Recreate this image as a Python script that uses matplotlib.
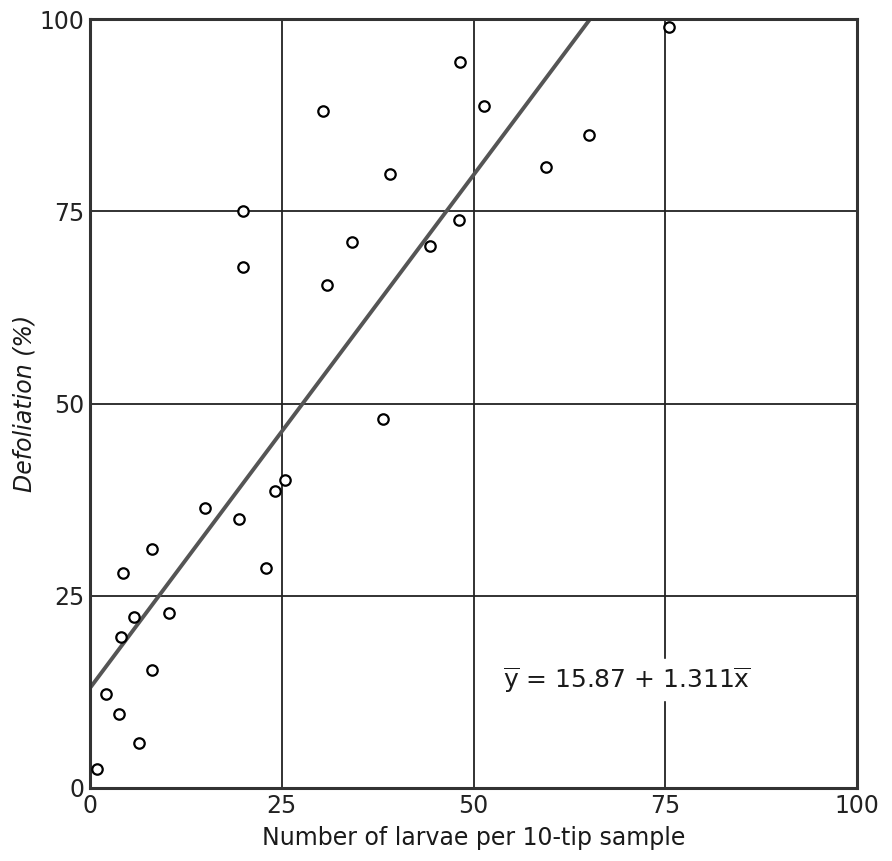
import numpy as np
import matplotlib.pyplot as plt

# larvae per 10-tip sample vs defoliation (%)
larvae = [0.9, 2.1, 3.8, 6.4, 4.0, 5.7, 8.1, 10.3, 4.3, 8.1,
          15.0, 19.4, 23.0, 24.1, 25.4, 20.0, 20.0, 30.9, 34.2, 38.2,
          44.3, 48.1, 39.1, 30.4, 48.2, 51.4, 59.5, 65.1, 75.5]
defoliation = [2.5, 12.2, 9.6, 5.9, 19.7, 22.3, 15.4, 22.7, 28.0, 31.1,
               36.4, 35.0, 28.6, 38.6, 40.0, 75.0, 67.7, 65.4, 71.0, 48.0,
               70.5, 73.8, 79.9, 88.0, 94.4, 88.7, 80.7, 84.9, 98.9]

# fitted line as drawn on the figure
line_x = [0, 65.2]
line_y = [13.0, 100]

ticks = [0, 25, 50, 75, 100]
tick_labels = ['0', '25', '50', '75', '100']
equation = r'$\overline{\mathrm{y}}$ = 15.87 + 1.311$\overline{\mathrm{x}}$'

plt.rcParams['font.family'] = ['DejaVu Sans']

fig = plt.figure(figsize=(8.92, 8.61), dpi=100)
ax = fig.add_axes([0.1009, 0.0848, 0.8599, 0.8931])

for v in [25, 50, 75]:
    ax.axvline(v, color='#222222', lw=1.3, zorder=1)
    ax.axhline(v, color='#222222', lw=1.3, zorder=1)

ax.plot(line_x, line_y, color='#555555', lw=2.8, solid_capstyle='butt', zorder=2)
ax.plot(larvae, defoliation, 'o', ms=7.5, mfc='white', mec='black', mew=1.6, zorder=3)

ax.text(53.8, 14.1, equation, fontsize=18, va='center', ha='left',
        color='#1a1a1a', backgroundcolor='white', zorder=4)

ax.set_xlim(0, 100)
ax.set_ylim(0, 100)
ax.set_xticks(ticks)
ax.set_xticklabels(tick_labels)
ax.set_yticks(ticks)
ax.set_yticklabels(tick_labels)
ax.tick_params(length=0, labelsize=17, colors='#222222', pad=4)
for s in ax.spines.values():
    s.set_linewidth(2.2)
    s.set_color('#333333')

ax.set_xlabel('Number of larvae per 10-tip sample', fontsize=17, color='#1a1a1a', labelpad=6)
ax.set_ylabel('Defoliation (%)', fontsize=17, style='italic', color='#1a1a1a', labelpad=2)

fig.savefig('out.png', dpi=100)
